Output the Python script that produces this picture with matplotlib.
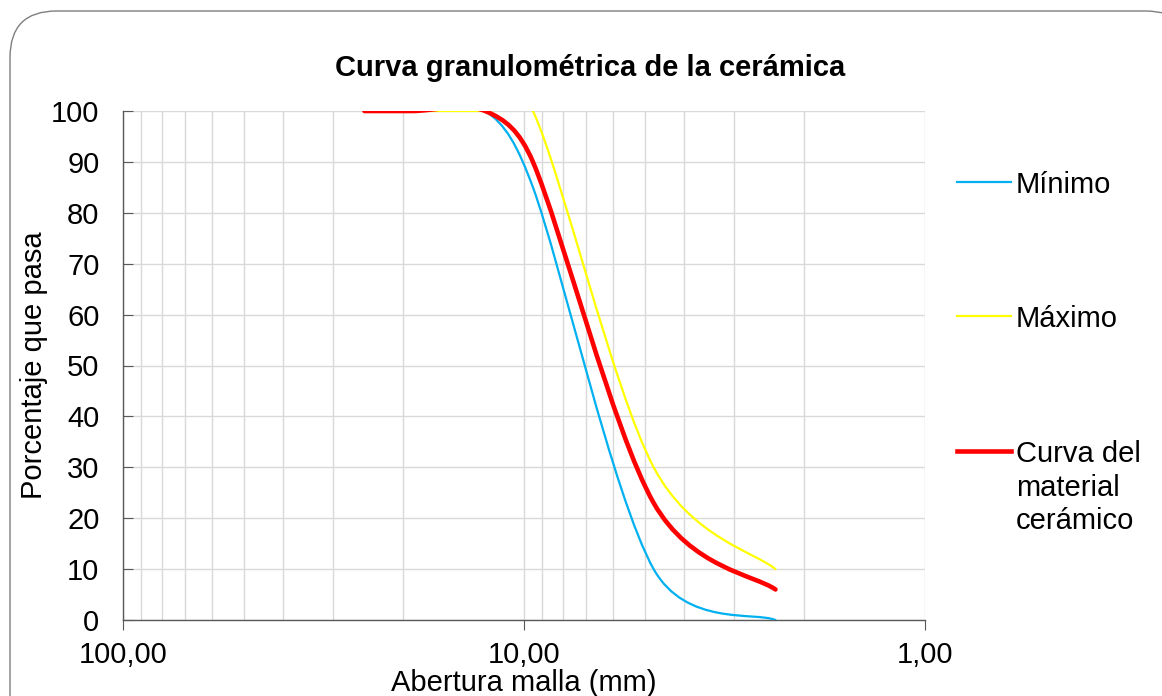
import matplotlib
matplotlib.use('Agg')
import matplotlib.pyplot as plt
import numpy as np
from matplotlib.path import Path
from matplotlib.patches import PathPatch, FancyBboxPatch
from matplotlib.lines import Line2D
from matplotlib.ticker import FixedLocator, FuncFormatter, LogLocator, NullFormatter

plt.rcParams['font.family'] = ['Liberation Sans', 'DejaVu Sans']

# Sieve openings (mm) and percent passing
tamiz_min = [19.0, 12.5, 9.5, 4.75, 2.36]
pasa_min = [100, 100, 85, 10, 0]

tamiz_max = [19.0, 12.5, 9.5, 4.75, 2.36]
pasa_max = [100, 100, 100, 30, 10]

tamiz_cer = [25.0, 19.0, 12.5, 9.5, 4.75, 2.36]
pasa_cer = [100, 100, 100, 90, 23, 6]

series_names = ['Mínimo', 'Máximo', 'Curva del\nmaterial\ncerámico']
series_colors = ['#00B0F0', '#FFFF00', '#FF0000']
series_widths = [1.6, 1.6, 3.3]

W, H = 1162, 696
fig = plt.figure(figsize=(W / 100, H / 100), dpi=100)

# rounded chart border
border = FancyBboxPatch((10 / W, -0.1), (W + 20) / W, (H - 11) / H + 0.1,
                        boxstyle='round,pad=0,rounding_size=0.04',
                        transform=fig.transFigure, facecolor='white',
                        edgecolor='#7f7f7f', linewidth=1.0, zorder=-5,
                        mutation_aspect=W / H)
fig.patches.append(border)

ax = fig.add_axes([123 / W, (H - 620) / H, 802 / W, 509 / H])
ax.set_facecolor('none')
ax.set_xscale('log')
ax.set_xlim(100, 1)
ax.set_ylim(0, 100)

# pixel scale, used to smooth in screen space like a spreadsheet chart
px_dec = 802 / 2.0
px_unit = 509 / 100.0


def smooth_path(xs, ys, f=1 / 6):
    u = np.log10(np.asarray(xs, float)) * px_dec
    v = np.asarray(ys, float) * px_unit
    P = np.column_stack([u, v])
    n = len(P)
    verts = [P[0]]
    codes = [Path.MOVETO]
    for i in range(n - 1):
        p0 = P[i - 1] if i > 0 else P[i]
        p1, p2 = P[i], P[i + 1]
        p3 = P[i + 2] if i + 2 < n else P[i + 1]
        d12 = np.hypot(*(p2 - p1))
        d02 = np.hypot(*(p2 - p0))
        d13 = np.hypot(*(p3 - p1))
        f0 = f if d02 * f <= d12 / 2 else d12 / (2 * d02)
        f3 = f if d13 * f <= d12 / 2 else d12 / (2 * d13)
        c1 = p1 + (p2 - p0) * f0
        c2 = p2 - (p3 - p1) * f3
        verts += [c1, c2, p2]
        codes += [Path.CURVE4] * 3
    verts = np.array(verts)
    data = np.column_stack([10 ** (verts[:, 0] / px_dec), verts[:, 1] / px_unit])
    return Path(data, codes)


series = [(tamiz_min, pasa_min), (tamiz_max, pasa_max), (tamiz_cer, pasa_cer)]
for (xs, ys), c, lw in zip(series, series_colors, series_widths):
    patch = PathPatch(smooth_path(xs, ys), facecolor='none', edgecolor=c,
                      linewidth=lw, capstyle='round', zorder=3)
    ax.add_patch(patch)

# grid
ax.xaxis.set_major_locator(FixedLocator([100, 10, 1]))
ax.xaxis.set_minor_locator(LogLocator(base=10, subs=np.arange(2, 10), numticks=20))
ax.xaxis.set_minor_formatter(NullFormatter())
ax.xaxis.set_major_formatter(FuncFormatter(lambda v, p: f'{v:.2f}'.replace('.', ',')))
ax.set_yticks(np.arange(0, 101, 10))
ax.grid(True, which='both', axis='x', color='#d9d9d9', linewidth=1.0)
ax.grid(True, which='major', axis='y', color='#d9d9d9', linewidth=1.0)
ax.set_axisbelow(True)

for s in ['top', 'right']:
    ax.spines[s].set_visible(False)
for s in ['left', 'bottom']:
    ax.spines[s].set_color('#595959')
    ax.spines[s].set_linewidth(1.0)

fs = 21
ax.tick_params(axis='y', direction='in', length=7, color='#595959', labelsize=fs, pad=17)
ax.tick_params(axis='x', which='major', direction='out', length=7, color='#595959',
               labelsize=fs, pad=8)
ax.tick_params(axis='x', which='minor', length=0)

ax.set_xlabel('Abertura malla (mm)', fontsize=fs, labelpad=0)
ax.set_ylabel('Porcentaje que pasa', fontsize=fs, labelpad=2)
fig.text(590 / W, 1 - 68 / H, 'Curva granulométrica de la cerámica',
         ha='center', va='center', fontsize=21, fontweight='bold')

# legend drawn by hand: handle aligned with first text line
leg_y = [182, 316, 451]
for name, c, lw, yy in zip(series_names, series_colors, series_widths, leg_y):
    fig.add_artist(Line2D([957 / W, 1011 / W], [1 - yy / H, 1 - yy / H],
                          color=c, linewidth=lw, transform=fig.transFigure))
    fig.text(1016 / W, 1 - (yy - 11) / H, name, ha='left', va='top',
             fontsize=fs, linespacing=1.25)

fig.savefig('out.png', dpi=100)
